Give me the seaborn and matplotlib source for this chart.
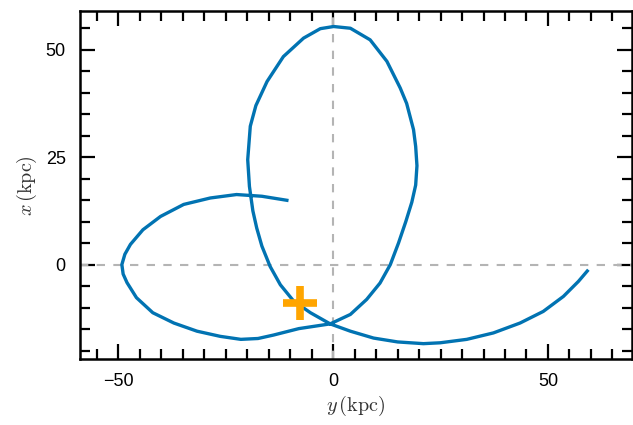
import seaborn as sns
import matplotlib.pyplot as plt
import pandas as pd
from matplotlib.ticker import MultipleLocator

# orbit, in order along the path
orbit_y = [-10.4, -16.6, -22.5, -28.6, -34.8, -40.2, -44.3, -47.2, -48.5, -49.2,
           -48.9, -48.0, -45.8, -42.0, -37.1, -31.7, -26.3, -21.5, -17.5, -13.9,
           -8.0, -0.7, 4.0, 7.8, 10.9, 13.3, 15.2, 16.9, 18.3, 19.2,
           19.5, 19.2, 18.7, 17.1, 15.6, 12.5, 8.6, 4.0, 0.1, -3.0,
           -6.9, -11.6, -15.4, -18.0, -19.3, -19.9, -19.5, -18.7, -17.8, -16.6,
           -14.7, -12.3, -9.2, -5.3, -0.7, 4.0, 9.4, 15.0, 21.0, 24.9,
           31.1, 37.3, 43.5, 48.9, 53.6, 57.1, 59.4]
orbit_x = [14.9, 15.9, 16.3, 15.5, 14.0, 11.2, 8.1, 4.7, 2.4, 0.0,
           -2.2, -4.2, -7.7, -11.2, -13.6, -15.5, -16.7, -17.4, -17.2, -16.4,
           -14.9, -13.8, -11.6, -8.1, -4.3, 0.0, 5.0, 10.0, 14.5, 18.5,
           23.0, 27.5, 31.4, 37.5, 41.1, 47.3, 52.3, 55.0, 55.4, 54.9,
           52.7, 48.4, 42.6, 37.0, 32.2, 24.4, 18.2, 12.5, 8.5, 4.3,
           -0.4, -4.7, -8.5, -11.2, -13.8, -15.5, -17.1, -18.0, -18.4, -18.2,
           -17.4, -15.9, -13.6, -10.9, -7.4, -3.9, -1.2]
sun_y = [-7.7]
sun_x = [-8.9]

orbit = pd.DataFrame({"y": orbit_y, "x": orbit_x})

sns.set_theme(style="ticks")
plt.rcParams['font.family'] = ['Liberation Sans', 'DejaVu Sans']
plt.rcParams['mathtext.fontset'] = 'cm'

fig = plt.figure(figsize=(6.33, 4.25), dpi=100)
ax = fig.add_axes([0.126, 0.155, 0.872, 0.819])

ax.axhline(0, color="#b4b4b4", ls=(0, (4, 4)), lw=1.5, zorder=1)
ax.axvline(0, color="#b4b4b4", ls=(0, (4, 4)), lw=1.5, zorder=1)

sns.lineplot(data=orbit, x="y", y="x", sort=False, estimator=None,
             color="#0173B2", lw=2.4, ax=ax, zorder=2,
             solid_joinstyle="round", solid_capstyle="butt")
ax.plot(sun_y, sun_x, marker="+", ms=24, mew=5.5, color="#FFA500",
        ls="none", zorder=3)

ax.set_xlim(-59, 69.5)
ax.set_ylim(-22, 59)
ax.xaxis.set_major_locator(MultipleLocator(50))
ax.xaxis.set_minor_locator(MultipleLocator(5))
ax.yaxis.set_major_locator(MultipleLocator(25))
ax.yaxis.set_minor_locator(MultipleLocator(5))
ax.tick_params(which="both", direction="in", top=True, right=True,
               labelsize=13, width=1.6, color="black", labelcolor="black")
ax.tick_params(which="major", length=11, pad=10)
ax.tick_params(which="minor", length=7)
for s in ax.spines.values():
    s.set_linewidth(1.8)
    s.set_color("black")

ax.set_xlabel(r"$y\,(\mathrm{kpc})$", fontsize=14.5, labelpad=3, color="#333333")
ax.set_ylabel(r"$x\,(\mathrm{kpc})$", fontsize=14.5, labelpad=5, color="#333333")

fig.savefig("out.png", dpi=100)
